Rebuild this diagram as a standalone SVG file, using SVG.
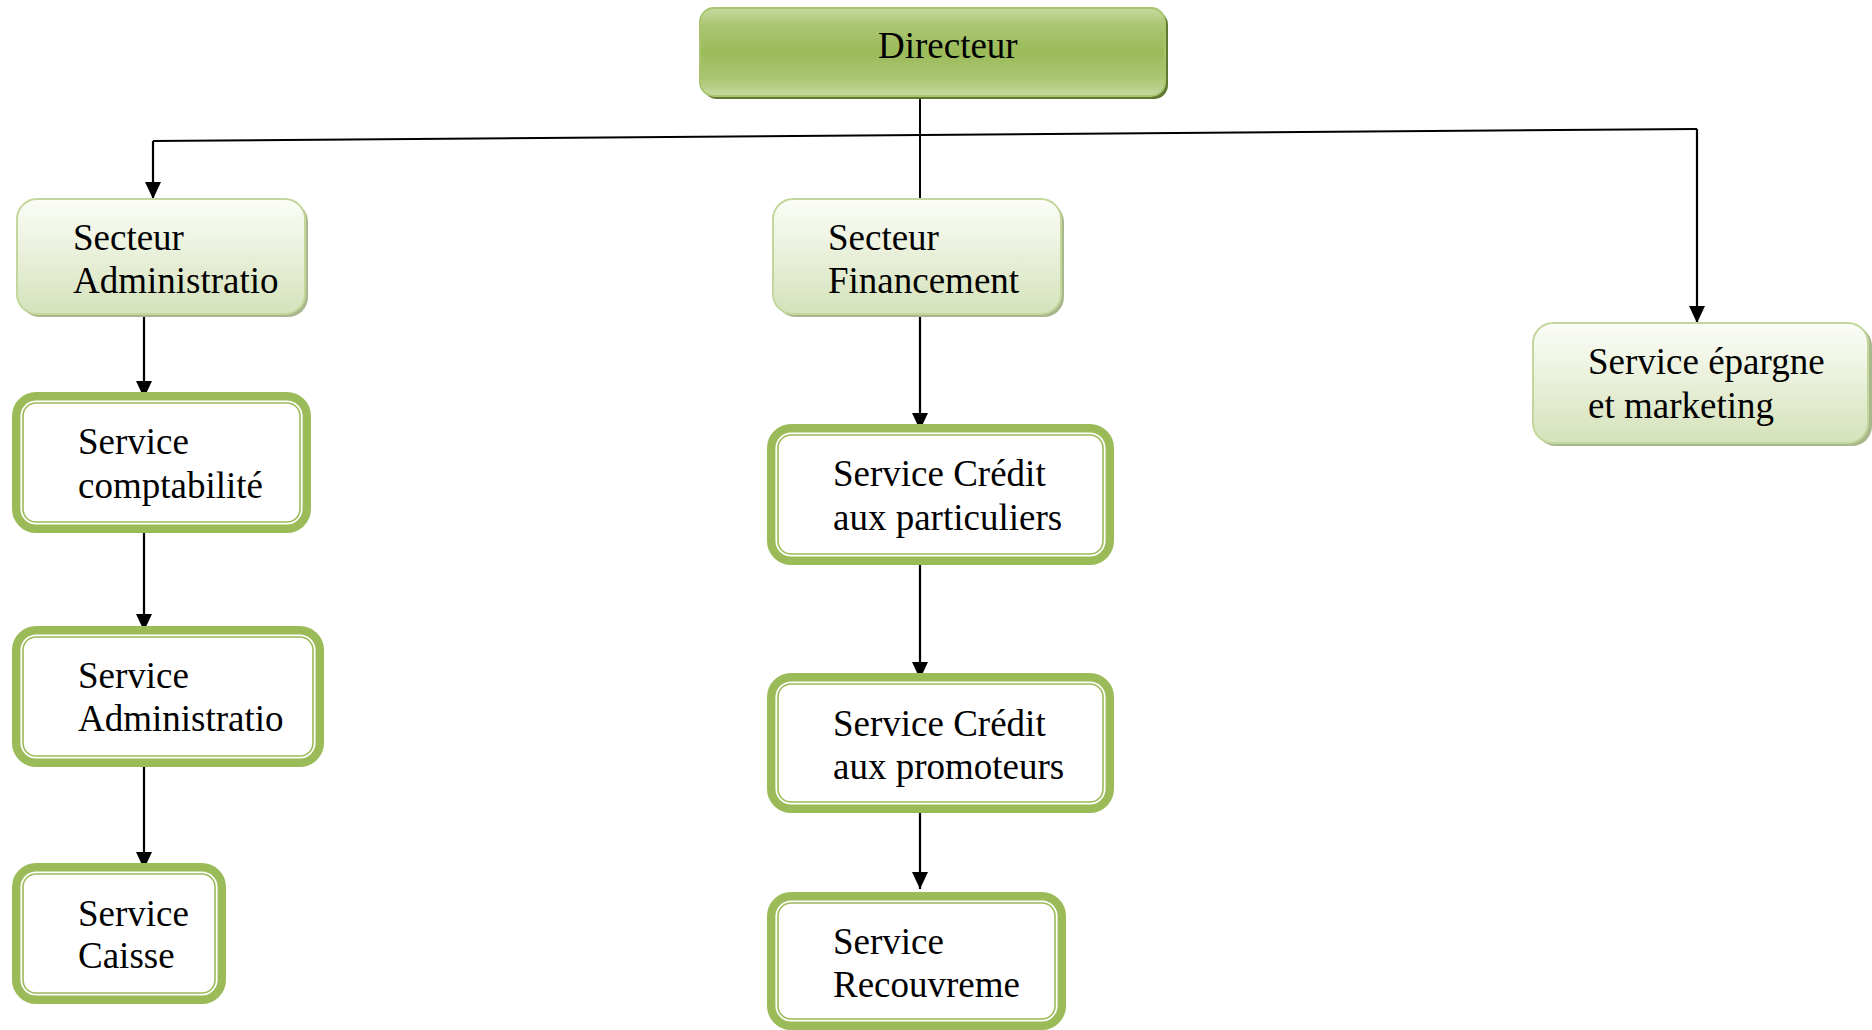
<svg xmlns="http://www.w3.org/2000/svg" width="1872" height="1030" viewBox="0 0 1872 1030">
<defs>
<linearGradient id="gDir" x1="0" y1="0" x2="0" y2="1">
<stop offset="0" stop-color="#c6d9a1"/>
<stop offset="0.2" stop-color="#abc672"/>
<stop offset="0.5" stop-color="#9bbb59"/>
<stop offset="0.8" stop-color="#abc672"/>
<stop offset="1" stop-color="#c6d9a1"/>
</linearGradient>
<linearGradient id="gSec" x1="0" y1="0" x2="0" y2="1">
<stop offset="0" stop-color="#fbfdf7"/>
<stop offset="0.3" stop-color="#f0f5e5"/>
<stop offset="1" stop-color="#d5e2ba"/>
</linearGradient>
<marker id="arr" markerUnits="userSpaceOnUse" markerWidth="16" markerHeight="17" refX="17" refY="8" orient="auto">
<path d="M0,0 L17,8 L0,16 z" fill="#000"/>
</marker>
<style>
text{font-family:"Liberation Serif","Times New Roman",serif;font-size:37px;fill:#000}
.thick{fill:#fff;stroke:#9bbb59;stroke-width:8.4}
.thin{fill:none;stroke:#9bbb59;stroke-width:1.6}
.sec{fill:url(#gSec);stroke:#c3d69b;stroke-width:2}
.secsh{fill:#a9b78c}
.ln{stroke:#000;stroke-width:2;fill:none}
.arrow{stroke:#000;stroke-width:2.2;fill:none;marker-end:url(#arr)}
</style>
</defs>

<g id="connectors">
<line class="ln" x1="153" y1="141" x2="1697" y2="129"/>
<line class="ln" x1="920" y1="96" x2="920" y2="199"/>
<line class="arrow" x1="153" y1="141" x2="153" y2="199"/>
<line class="arrow" x1="1697" y1="129" x2="1697" y2="323"/>
<line class="arrow" x1="144" y1="315" x2="144" y2="398"/>
<line class="arrow" x1="144" y1="528" x2="144" y2="631"/>
<line class="arrow" x1="144" y1="763" x2="144" y2="869"/>
<line class="arrow" x1="920" y1="315" x2="920" y2="430"/>
<line class="arrow" x1="920" y1="563" x2="920" y2="679"/>
<line class="arrow" x1="920" y1="808" x2="920" y2="889"/>
</g>

<g id="directeur">
<rect x="703" y="11" width="465" height="88" rx="14" fill="#5f7832"/>
<rect x="700" y="8" width="465" height="88" rx="14" fill="url(#gDir)" stroke="#a9c46f" stroke-width="2"/>
<text x="878" y="58">Directeur</text>
</g>

<g id="secteur-administration">
<rect class="secsh" x="20" y="202" width="288" height="115" rx="20"/>
<rect class="sec" x="17" y="199" width="288" height="115" rx="20"/>
<text x="73" y="250">Secteur</text>
<text x="73" y="293">Administratio</text>
</g>

<g id="secteur-financement">
<rect class="secsh" x="776" y="202" width="288" height="115" rx="20"/>
<rect class="sec" x="773" y="199" width="288" height="115" rx="20"/>
<text x="828" y="250">Secteur</text>
<text x="828" y="293">Financement</text>
</g>

<g id="service-epargne">
<rect class="secsh" x="1536" y="326" width="336" height="120" rx="20"/>
<rect class="sec" x="1533" y="323" width="335" height="120" rx="20"/>
<text x="1588" y="374">Service épargne</text>
<text x="1588" y="418">et marketing</text>
</g>

<g id="service-comptabilite">
<rect class="thick" x="16.2" y="396.2" width="290.6" height="132.6" rx="20"/>
<rect class="thin" x="23" y="403" width="277" height="119" rx="13"/>
<text x="78" y="454">Service</text>
<text x="78" y="498">comptabilité</text>
</g>

<g id="service-administration">
<rect class="thick" x="16.2" y="630.2" width="303.6" height="132.6" rx="20"/>
<rect class="thin" x="23" y="637" width="290" height="119" rx="13"/>
<text x="78" y="688">Service</text>
<text x="78" y="731">Administratio</text>
</g>

<g id="service-caisse">
<rect class="thick" x="16.2" y="867.2" width="205.6" height="132.6" rx="20"/>
<rect class="thin" x="23" y="874" width="192" height="119" rx="13"/>
<text x="78" y="926">Service</text>
<text x="78" y="968">Caisse</text>
</g>

<g id="service-credit-particuliers">
<rect class="thick" x="771.2" y="428.2" width="338.6" height="132.6" rx="20"/>
<rect class="thin" x="778" y="435" width="325" height="119" rx="13"/>
<text x="833" y="486">Service Crédit</text>
<text x="833" y="530">aux particuliers</text>
</g>

<g id="service-credit-promoteurs">
<rect class="thick" x="771.2" y="677.2" width="338.6" height="131.6" rx="20"/>
<rect class="thin" x="778" y="684" width="325" height="118" rx="13"/>
<text x="833" y="736">Service Crédit</text>
<text x="833" y="779">aux promoteurs</text>
</g>

<g id="service-recouvrement">
<rect class="thick" x="771.2" y="896.2" width="290.6" height="129.6" rx="20"/>
<rect class="thin" x="778" y="903" width="277" height="116" rx="13"/>
<text x="833" y="954">Service</text>
<text x="833" y="997">Recouvreme</text>
</g>
</svg>
